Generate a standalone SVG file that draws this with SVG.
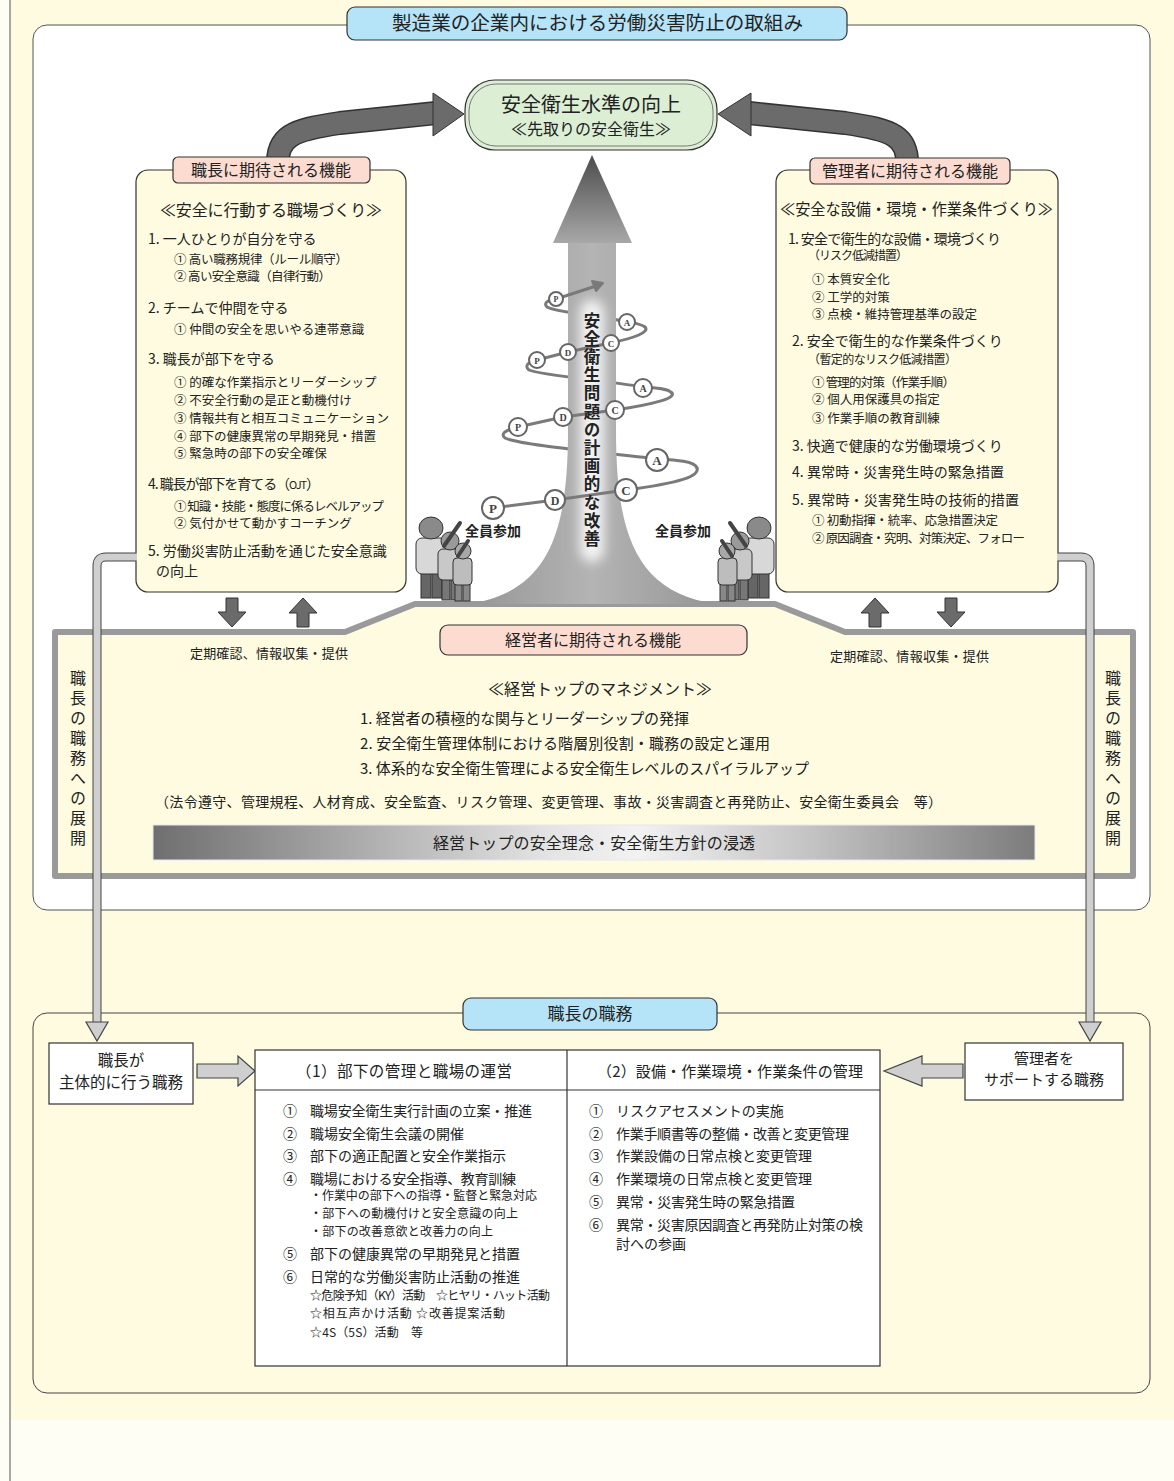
<svg xmlns="http://www.w3.org/2000/svg" width="1174" height="1481" viewBox="0 0 1174 1481">
<defs>
<style>
.t{font-family:"Noto Sans CJK JP","Noto Sans",sans-serif;fill:#222}
.b{font-weight:bold}
.f12{font-size:12px}.f125{font-size:12.5px}.f13{font-size:13px}.f14{font-size:14px}.f15{font-size:15px}.f16{font-size:16px}
.mid{text-anchor:middle}
.vert{writing-mode:vertical-rl}
.cream{fill:#fffbe0}
.pink{fill:#fcdcd1;stroke:#333;stroke-width:1.2}
.blue{fill:#b5e3f7;stroke:#333;stroke-width:1.2}
.dkarrow{fill:#6b6b6b;stroke:#333;stroke-width:1}
.ltarrow{fill:#cfcfcf;stroke:#444;stroke-width:1.2}
.spiral{fill:none;stroke:#7a7a7a;stroke-width:3;stroke-linecap:round}
.pdca circle{fill:#fff;stroke:#666;stroke-width:2}
.pdca text{font-family:"Liberation Serif",serif;font-weight:bold;fill:#444;text-anchor:middle}
.fig{stroke:#333;stroke-width:1}
</style>
<linearGradient id="headGrad" x1="0" y1="0" x2="0" y2="1"><stop offset="0" stop-color="#4c4c4c"/><stop offset="1" stop-color="#a8a8a8"/></linearGradient>
<linearGradient id="shaftGrad" x1="0" y1="0" x2="1" y2="0"><stop offset="0" stop-color="#959595"/><stop offset="0.5" stop-color="#b4b4b4"/><stop offset="1" stop-color="#959595"/></linearGradient>
<linearGradient id="barGrad" x1="0" y1="0" x2="1" y2="0"><stop offset="0" stop-color="#6f6f6f"/><stop offset="0.45" stop-color="#e4e4e4"/><stop offset="0.55" stop-color="#f2f2f2"/><stop offset="0.75" stop-color="#c2c2c2"/><stop offset="1" stop-color="#7c7c7c"/></linearGradient>
<filter id="glow" x="-1" y="-0.2" width="3" height="1.4"><feGaussianBlur stdDeviation="6"/></filter>
</defs>

<!-- page -->
<rect width="1174" height="1481" fill="#fffef4"/>
<rect x="10" y="0" width="1164" height="1420" class="cream"/>
<line x1="10" y1="0" x2="10" y2="1481" stroke="#555" stroke-width="1"/>

<!-- upper frame -->
<rect x="33" y="25" width="1117" height="885" rx="14" fill="#fff" stroke="#555" stroke-width="1"/>
<g id="title">
<rect x="347" y="7" width="500" height="33" rx="8" class="blue"/>
<text x="392" y="30" class="t" font-size="19" textLength="411" lengthAdjust="spacingAndGlyphs">製造業の企業内における労働災害防止の取組み</text>
</g>

<!-- curved arrows into the goal -->
<g id="rise-arrows">
<path d="M278 168 C276 136 292 130 340 123 L436 113" fill="none" stroke="#333" stroke-width="24"/>
<path d="M278 168 C276 136 292 130 340 123 L437 113" fill="none" stroke="#6b6b6b" stroke-width="21"/>
<polygon points="433,93 464,114 433,136" class="dkarrow"/>
<path d="M907 168 C909 136 893 130 845 123 L749 113" fill="none" stroke="#333" stroke-width="24"/>
<path d="M907 168 C909 136 893 130 845 123 L748 113" fill="none" stroke="#6b6b6b" stroke-width="21"/>
<polygon points="751,93 718,114 751,136" class="dkarrow"/>
</g>

<g id="goal">
<rect x="465" y="80" width="252" height="70" rx="30" fill="#dcefd5" stroke="#333" stroke-width="1.2"/>
<rect x="469" y="84" width="244" height="62" rx="27" fill="none" stroke="#777" stroke-width="1"/>
<text x="591" y="112" class="t mid" font-size="20">安全衛生水準の向上</text>
<text x="591" y="135" class="t mid f16">≪先取りの安全衛生≫</text>
</g>

<!-- management panel -->
<g id="management">
<polygon points="55,632 345,632 415,604 775,604 845,632 1133,632 1133,876 55,876" class="cream" stroke="#9a9a9a" stroke-width="6" stroke-linejoin="round"/>
</g>

<!-- central improvement arrow with PDCA spiral -->
<g id="improvement">
<g class="spiral">
<path d="M697 468 C695 461 675 460 657 459 C600 452 520 445 505 438 C500 434 505 430 518 427"/>
<path d="M672 393 C668 388 655 388 643 387 C600 380 540 375 529 370 C524 366 528 362 537 360"/>
<path d="M645 327 C640 323 632 323 627 322 C600 316 555 312 547 307 C543 303 548 300 556 299"/>
</g>
<polygon points="592,155 553,243 632,243" fill="url(#headGrad)"/>
<path d="M568 243 L568 430 C568 535 548 592 468 604 L716 604 C636 592 616 535 616 430 L616 243 Z" fill="url(#shaftGrad)"/>
<rect x="580" y="300" width="24" height="262" rx="12" fill="#fff" opacity="0.85" filter="url(#glow)"/>
<g class="spiral">
<path d="M493 508 L555 500 L626 490 C680 483 700 476 697 468"/>
<path d="M518 427 L563 417 L615 410 C655 404 676 398 672 393"/>
<path d="M537 360 L568 352 L610 343 C635 338 650 332 645 327"/>
<path d="M556 299 L596 286"/>
</g>
<polygon points="603,283 592,281 596,291" fill="#7a7a7a" stroke="#7a7a7a" stroke-width="2" stroke-linejoin="round"/>
<g class="pdca">
<circle cx="493" cy="508" r="11"/><text x="493" y="513" font-size="13">P</text>
<circle cx="555" cy="500" r="10"/><text x="555" y="505" font-size="12">D</text>
<circle cx="626" cy="490" r="11"/><text x="626" y="495" font-size="13">C</text>
<circle cx="657" cy="460" r="11"/><text x="657" y="465" font-size="13">A</text>
<circle cx="518" cy="427" r="9"/><text x="518" y="431" font-size="10">P</text>
<circle cx="563" cy="417" r="9"/><text x="563" y="421" font-size="10">D</text>
<circle cx="615" cy="410" r="9"/><text x="615" y="414" font-size="10">C</text>
<circle cx="643" cy="388" r="9"/><text x="643" y="392" font-size="10">A</text>
<circle cx="537" cy="360" r="8"/><text x="537" y="363.5" font-size="9">P</text>
<circle cx="568" cy="352" r="8"/><text x="568" y="355.5" font-size="9">D</text>
<circle cx="611" cy="343" r="8"/><text x="611" y="346.5" font-size="9">C</text>
<circle cx="627" cy="322" r="8"/><text x="627" y="325.5" font-size="9">A</text>
<circle cx="556" cy="299" r="7"/><text x="556" y="302" font-size="8">P</text>
</g>
<text x="592" y="312" class="t b vert" font-size="16.5" letter-spacing="1.7" fill="#111">安全衛生問題の計画的な改善</text>
</g>

<!-- everyone takes part -->
<g id="people-left">
<g class="fig">
<rect x="421" y="572" width="10" height="26" fill="#666"/><rect x="432" y="572" width="10" height="26" fill="#666"/>
<rect x="416" y="538" width="30" height="36" rx="6" fill="#d8d8d8"/>
<ellipse cx="431" cy="528" rx="12" ry="11" fill="#8a8a8a"/>
<rect x="442" y="578" width="8" height="22" fill="#777"/><rect x="451" y="578" width="8" height="22" fill="#777"/>
<rect x="438" y="549" width="24" height="31" rx="5" fill="#c8c8c8"/>
<circle cx="450" cy="541" r="9" fill="#9a9a9a"/>
<rect x="455" y="583" width="7" height="18" fill="#888"/><rect x="463" y="583" width="7" height="18" fill="#888"/>
<rect x="453" y="558" width="19" height="27" rx="4" fill="#bdbdbd"/>
<circle cx="463" cy="551" r="8" fill="#a8a8a8"/>
<path d="M444 546 L460 523 M458 556 L468 541" stroke="#444" stroke-width="4" stroke-linecap="round"/>
</g>
</g>
<use href="#people-left" transform="translate(1190 0) scale(-1 1)"/>
<text x="465" y="536" class="t b f14">全員参加</text>
<text x="655" y="536" class="t b f14">全員参加</text>

<!-- foreman box -->
<g id="foreman">
<rect x="136" y="170" width="270" height="422" rx="12" class="cream" stroke="#333" stroke-width="1.2"/>
<rect x="173" y="157" width="197" height="26" rx="5" class="pink"/>
<text x="271" y="176" class="t mid f16">職長に期待される機能</text>
<text x="160" y="216" class="t f16" textLength="222">≪安全に行動する職場づくり≫</text>
<text x="148" y="244" class="t f14">1. 一人ひとりが自分を守る</text>
<text x="174" y="263.5" class="t f125" textLength="174">① 高い職務規律（ルール順守）</text>
<text x="174" y="280.5" class="t f125" textLength="157">② 高い安全意識（自律行動）</text>
<text x="148" y="313" class="t f14">2. チームで仲間を守る</text>
<text x="174" y="333.5" class="t f125">① 仲間の安全を思いやる連帯意識</text>
<text x="148" y="364" class="t f14">3. 職長が部下を守る</text>
<text x="174" y="386.5" class="t f125">① 的確な作業指示とリーダーシップ</text>
<text x="174" y="404.5" class="t f125">② 不安全行動の是正と動機付け</text>
<text x="174" y="422.5" class="t f125">③ 情報共有と相互コミュニケーション</text>
<text x="174" y="440.5" class="t f125" textLength="202">④ 部下の健康異常の早期発見・措置</text>
<text x="174" y="457.5" class="t f125">⑤ 緊急時の部下の安全確保</text>
<text x="148" y="489" class="t f14" textLength="172">4. 職長が部下を育てる（<tspan font-size="11">OJT</tspan>）</text>
<text x="174" y="510.5" class="t f125" textLength="210">① 知識・技能・態度に係るレベルアップ</text>
<text x="174" y="527.5" class="t f125">② 気付かせて動かすコーチング</text>
<text x="148" y="556" class="t f14">5. 労働災害防止活動を通じた安全意識</text>
<text x="156" y="576" class="t f14">の向上</text>
</g>

<!-- manager box -->
<g id="manager">
<rect x="776" y="170" width="282" height="422" rx="12" class="cream" stroke="#333" stroke-width="1.2"/>
<rect x="810" y="158" width="200" height="26" rx="5" class="pink"/>
<text x="910" y="177" class="t mid f16">管理者に期待される機能</text>
<text x="780" y="215" class="t f16" textLength="273" lengthAdjust="spacingAndGlyphs">≪安全な設備・環境・作業条件づくり≫</text>
<text x="788" y="244" class="t f14" textLength="213">1. 安全で衛生的な設備・環境づくり</text>
<text x="808" y="260" class="t f12" textLength="100">（リスク低減措置）</text>
<text x="812" y="283.5" class="t f125">① 本質安全化</text>
<text x="812" y="301.5" class="t f125">② 工学的対策</text>
<text x="812" y="318.5" class="t f125" textLength="165">③ 点検・維持管理基準の設定</text>
<text x="792" y="346" class="t f14">2. 安全で衛生的な作業条件づくり</text>
<text x="808" y="364" class="t f12" textLength="149">（暫定的なリスク低減措置）</text>
<text x="812" y="386.5" class="t f125" textLength="143">① 管理的対策（作業手順）</text>
<text x="812" y="403.5" class="t f125">② 個人用保護具の指定</text>
<text x="812" y="422.5" class="t f125">③ 作業手順の教育訓練</text>
<text x="792" y="451" class="t f14">3. 快適で健康的な労働環境づくり</text>
<text x="792" y="477" class="t f14" textLength="212">4. 異常時・災害発生時の緊急措置</text>
<text x="792" y="505" class="t f14" textLength="227">5. 異常時・災害発生時の技術的措置</text>
<text x="812" y="524.5" class="t f125" textLength="186">① 初動指揮・統率、応急措置決定</text>
<text x="812" y="542.5" class="t f125" textLength="213">② 原因調査・究明、対策決定、フォロー</text>
</g>

<!-- reporting arrows -->
<g id="reporting">
<polygon points="226,598 238,598 238,612 246,612 232,627 218,612 226,612" class="dkarrow"/>
<polygon points="297,627 309,627 309,613 317,613 303,598 289,613 297,613" class="dkarrow"/>
<polygon points="869,627 881,627 881,613 889,613 875,598 861,613 869,613" class="dkarrow"/>
<polygon points="945,598 957,598 957,612 965,612 951,627 937,612 945,612" class="dkarrow"/>
<text x="190" y="658" class="t f13" textLength="158">定期確認、情報収集・提供</text>
<text x="830" y="661" class="t f13" textLength="159">定期確認、情報収集・提供</text>
</g>

<g id="management-text">
<rect x="440" y="625" width="307" height="30" rx="8" class="pink"/>
<text x="593" y="646" class="t mid f16">経営者に期待される機能</text>
<text x="600" y="695" class="t mid f16">≪経営トップのマネジメント≫</text>
<text x="360" y="723.5" class="t f15" textLength="329">1. 経営者の積極的な関与とリーダーシップの発揮</text>
<text x="360" y="748.5" class="t f15" textLength="410">2. 安全衛生管理体制における階層別役割・職務の設定と運用</text>
<text x="360" y="773.5" class="t f15" textLength="449">3. 体系的な安全衛生管理による安全衛生レベルのスパイラルアップ</text>
<text x="155" y="807" class="t f14" textLength="787" lengthAdjust="spacing">（法令遵守、管理規程、人材育成、安全監査、リスク管理、変更管理、事故・災害調査と再発防止、安全衛生委員会　等）</text>
<rect x="153" y="825" width="882" height="35" fill="url(#barGrad)" stroke="#e8e8e8" stroke-width="1"/>
<text x="433" y="849" class="t f16" textLength="322">経営トップの安全理念・安全衛生方針の浸透</text>
</g>

<text id="deploy-left" x="78" y="670" class="t f16 vert" letter-spacing="4">職長の職務への展開</text>
<text id="deploy-right" x="1113" y="670" class="t f16 vert" letter-spacing="4">職長の職務への展開</text>

<!-- foreman's duties -->
<g id="duties">
<rect x="33" y="1013" width="1117" height="380" rx="14" class="cream" stroke="#444" stroke-width="1"/>
<rect x="463" y="998" width="254" height="32" rx="8" class="blue"/>
<text x="590" y="1020" class="t mid" font-size="17">職長の職務</text>
</g>

<!-- links down to the duties and into the table -->
<g id="connectors">
<path d="M136 557 L106 557 Q97 557 97 566 L97 1024" fill="none" stroke="#444" stroke-width="9"/>
<path d="M137 557 L106 557 Q97 557 97 566 L97 1025" fill="none" stroke="#cfcfcf" stroke-width="7"/>
<polygon points="86,1022 108,1022 97,1041" class="ltarrow"/>
<path d="M1058 557 L1081 557 Q1090 557 1090 566 L1090 1024" fill="none" stroke="#444" stroke-width="9"/>
<path d="M1057 557 L1081 557 Q1090 557 1090 566 L1090 1025" fill="none" stroke="#cfcfcf" stroke-width="7"/>
<polygon points="1079,1022 1101,1022 1090,1041" class="ltarrow"/>
<polygon points="197,1064 238,1064 238,1056 255,1071 238,1086 238,1078 197,1078" class="ltarrow"/>
<polygon points="963,1064 922,1064 922,1056 884,1071 922,1086 922,1078 963,1078" class="ltarrow"/>
</g>

<g id="own-duties">
<rect x="49" y="1043" width="144" height="61" fill="#fff" stroke="#333" stroke-width="1.2"/>
<text x="121" y="1066" class="t mid" font-size="15.5">職長が</text>
<text x="121" y="1088" class="t mid" font-size="15.5">主体的に行う職務</text>
</g>
<g id="support-duties">
<rect x="965" y="1043" width="158" height="57" fill="#fff" stroke="#333" stroke-width="1.2"/>
<text x="1044" y="1064" class="t mid" font-size="15">管理者を</text>
<text x="1044" y="1085" class="t mid" font-size="15">サポートする職務</text>
</g>
<g id="duty-table">
<rect x="255" y="1050" width="625" height="316" fill="#fff" stroke="#333" stroke-width="1.2"/>
<line x1="255" y1="1090" x2="880" y2="1090" stroke="#333" stroke-width="1.2"/>
<line x1="567" y1="1050" x2="567" y2="1366" stroke="#333" stroke-width="1.2"/>
<text x="296" y="1077" class="t" font-size="15.5" textLength="216">（1）部下の管理と職場の運営</text>
<text x="597" y="1077" class="t" font-size="15" textLength="266">（2）設備・作業環境・作業条件の管理</text>
<g class="t f14">
<text x="283" y="1116">①</text><text x="310" y="1116" textLength="222">職場安全衛生実行計画の立案・推進</text>
<text x="283" y="1139">②</text><text x="310" y="1139">職場安全衛生会議の開催</text>
<text x="283" y="1161">③</text><text x="310" y="1161">部下の適正配置と安全作業指示</text>
<text x="283" y="1184">④</text><text x="310" y="1184" textLength="206">職場における安全指導、教育訓練</text>
<text x="283" y="1259">⑤</text><text x="310" y="1259">部下の健康異常の早期発見と措置</text>
<text x="283" y="1282">⑥</text><text x="310" y="1282">日常的な労働災害防止活動の推進</text>
<text x="589" y="1116">①</text><text x="616" y="1116">リスクアセスメントの実施</text>
<text x="589" y="1139">②</text><text x="616" y="1139" textLength="233">作業手順書等の整備・改善と変更管理</text>
<text x="589" y="1161">③</text><text x="616" y="1161">作業設備の日常点検と変更管理</text>
<text x="589" y="1184">④</text><text x="616" y="1184">作業環境の日常点検と変更管理</text>
<text x="589" y="1207">⑤</text><text x="616" y="1207" textLength="179">異常・災害発生時の緊急措置</text>
<text x="589" y="1230">⑥</text><text x="616" y="1230" textLength="247">異常・災害原因調査と再発防止対策の検</text>
<text x="616" y="1249">討への参画</text>
</g>
<g class="t f12">
<text x="310" y="1200" textLength="227">・作業中の部下への指導・監督と緊急対応</text>
<text x="310" y="1218" textLength="208">・部下への動機付けと安全意識の向上</text>
<text x="310" y="1236" textLength="183">・部下の改善意欲と改善力の向上</text>
<text x="310" y="1299.5" textLength="240">☆危険予知（KY）活動　☆ヒヤリ・ハット活動</text>
<text x="310" y="1317.5" textLength="195">☆相互声かけ活動 ☆改善提案活動</text>
<text x="310" y="1336.5" textLength="113">☆4S（5S）活動　等</text>
</g>
</g>
</svg>
